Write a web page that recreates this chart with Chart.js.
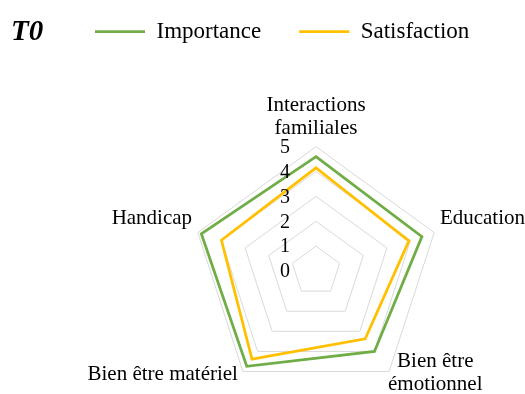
<!DOCTYPE html>
<html>
<head>
<meta charset="utf-8">
<script src="https://cdn.jsdelivr.net/npm/chart.js@4.4.0/dist/chart.umd.min.js"></script>
<style>
  html, body { margin: 0; padding: 0; background: #fff; overflow: hidden; }
  #wrap { width: 525px; height: 394px; overflow: hidden; }
  canvas { display: block; }
</style>
</head>
<body>
<!-- canvas is a bit larger than the view so the radar can sit low, like the original -->
<div id="wrap"><canvas id="radarChart" width="534" height="453"></canvas></div>
<script>
const ctx = document.getElementById('radarChart').getContext('2d');

const labels = [
    ['Interactions', 'familiales'],
    'Education',
    ['Bien être', 'émotionnel'],
    'Bien être matériel',
    'Handicap'
]
const importance = [4.6, 4.48, 4.0, 4.74, 4.85]
const satisfaction = [4.15, 3.93, 3.37, 4.38, 4.0]
const tickLabels = [0, 1, 2, 3, 4, 5]

const serif = 'Liberation Serif'
const labelFont = '21px "' + serif + '"'
const hidden = [2, 3]   // bottom labels, placed by hand (Excel puts them beside the corner)

// "T0" title, tick numbers left of the vertical axis, the two bottom labels
const extras = {
    id: 'extras',
    afterDraw(chart) {
        const c = chart.ctx
        const r = chart.scales.r
        c.save()
        c.fillStyle = '#000'
        c.font = 'italic bold 29px "' + serif + '"'
        c.textAlign = 'left'
        c.textBaseline = 'alphabetic'
        c.fillText('T0', 11, 40)

        c.font = '20px "' + serif + '"'
        c.textAlign = 'center'
        c.textBaseline = 'middle'
        tickLabels.forEach(v => {
            const y = r.yCenter - r.getDistanceFromCenterForValue(v)
            c.fillText(String(v), r.xCenter - 31, y + 1)
        })

        c.font = labelFont
        // Bien être matériel
        const p3 = r.getPointPosition(3, r.drawingArea)
        c.textAlign = 'right'
        c.fillText(labels[3], p3.x - 5, p3.y + 3)
        // Bien être / émotionnel, centred lines
        const p2 = r.getPointPosition(2, r.drawingArea)
        const w = Math.max(...labels[2].map(s => c.measureText(s).width))
        c.textAlign = 'center'
        labels[2].forEach((s, i) => c.fillText(s, p2.x - 1 + w / 2, p2.y - 10 + i * 23))
        c.restore()
    }
}

const data = {
    labels,
    datasets: [{
        label: 'Importance',
        data: importance,
        borderColor: '#70AD47',
        backgroundColor: '#70AD47',
        borderWidth: 2.75,
        fill: false,
        pointRadius: 0,
    }, {
        label: 'Satisfaction',
        data: satisfaction,
        borderColor: '#FFC000',
        backgroundColor: '#FFC000',
        borderWidth: 2.75,
        fill: false,
        pointRadius: 0,
    }],
}

const defaultLabels = Chart.defaults.plugins.legend.labels.generateLabels

const config = {
    type: 'radar',
    data: data,
    plugins: [extras],
    options: {
        responsive: false,
        animation: false,
        layout: { padding: { left: 80, right: 0, top: 5, bottom: 0 } },
        plugins: {
            legend: {
                position: 'top',
                align: 'start',
                labels: {
                    usePointStyle: true,
                    pointStyle: 'line',
                    pointStyleWidth: 50,
                    boxWidth: 50,
                    padding: 15,
                    color: '#000',
                    font: { family: serif, size: 23 },
                    // a wider gap after the first entry
                    generateLabels(chart) {
                        const items = defaultLabels(chart)
                        items.forEach((it, i) => { if (i < items.length - 1) it.text += '\u2003' })
                        return items
                    },
                },
            },
            title: { display: false },
            tooltip: { enabled: false },
        },
        scales: {
            r: {
                min: 0,
                max: 5,
                ticks: { stepSize: 1, display: false },
                grid: { color: '#D9D9D9', lineWidth: 1 },
                angleLines: { display: false },
                pointLabels: {
                    color: c => hidden.includes(c.index) ? 'rgba(0,0,0,0)' : '#000',
                    padding: 6,
                    font: { family: serif, size: 21, lineHeight: 1.12 },
                },
            },
        },
    },
}

const myChart = new Chart(ctx, config)
</script>
</body>
</html>
